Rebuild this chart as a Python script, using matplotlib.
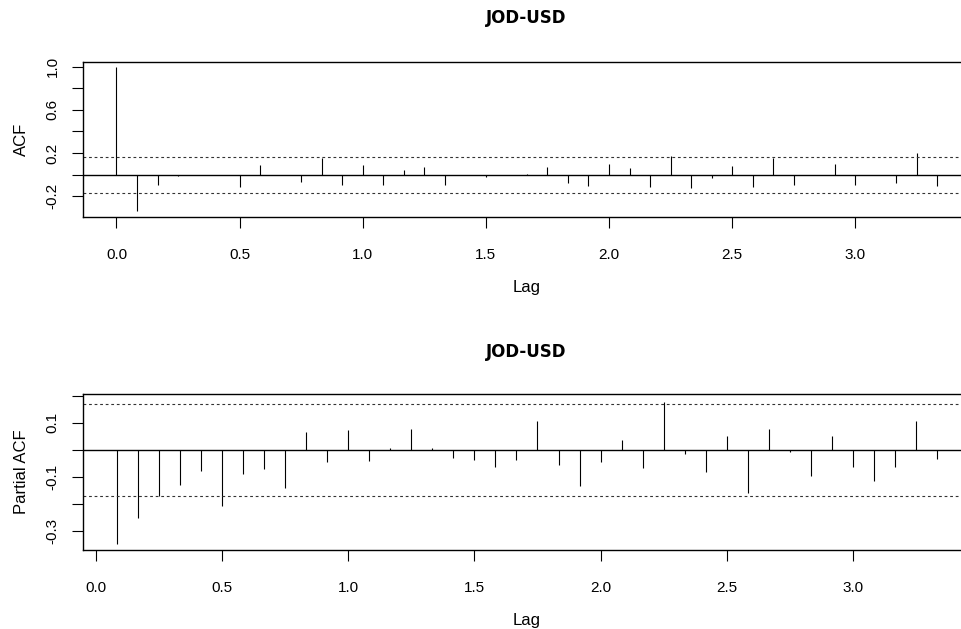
import numpy as np
import matplotlib
matplotlib.use("Agg")
import matplotlib.pyplot as plt

TITLE = "JOD-USD"

# lags are in years (monthly data, lag k = k/12)
acf_lags = np.arange(0, 41) / 12
acf_vals = [1.0, -0.336, -0.10, -0.01, 0.0, 0.0, -0.117, 0.09, 0.0, -0.065,
            0.152, -0.095, 0.09, -0.10, 0.043, 0.074, -0.095, 0.0, -0.02, 0.0,
            0.01, 0.074, -0.074, -0.105, 0.099, 0.062, -0.111, 0.173, -0.126, -0.034,
            0.083, -0.117, 0.15, -0.095, 0.0, 0.10, -0.095, 0.0, -0.074, 0.204,
            -0.105]
acf_ci = 0.166

pacf_lags = np.arange(1, 41) / 12
pacf_vals = [-0.348, -0.252, -0.172, -0.129, -0.079, -0.206, -0.088, -0.070, -0.141, 0.067,
             -0.046, 0.075, -0.042, 0.007, 0.079, 0.007, -0.030, -0.036, -0.064, -0.038,
             0.106, -0.054, -0.135, -0.046, 0.036, -0.067, 0.176, -0.014, -0.083, 0.053,
             -0.159, 0.078, -0.009, -0.095, 0.053, -0.063, -0.116, -0.063, 0.106, -0.033]
pacf_ci = 0.169

x_ticks = [0.0, 0.5, 1.0, 1.5, 2.0, 2.5, 3.0]
x_labels = ["0.0", "0.5", "1.0", "1.5", "2.0", "2.5", "3.0"]

acf_yticks = [-0.2, 0.0, 0.2, 0.4, 0.6, 0.8, 1.0]
acf_ylabels = ["-0.2", "", "0.2", "", "0.6", "", "1.0"]
pacf_yticks = [-0.3, -0.2, -0.1, 0.0, 0.1, 0.2]
pacf_ylabels = ["-0.3", "", "-0.1", "", "0.1", ""]

plt.rcParams["font.family"] = ["Liberation Sans", "DejaVu Sans"]

W, H = 961, 629
fig = plt.figure(figsize=(W / 100, H / 100), dpi=100)


def px_axes(left, top, right, bottom):
    return fig.add_axes([left / W, 1 - bottom / H, (right - left) / W, (bottom - top) / H])


def style(ax, lags, vals, ci, xlim, ylim, yticks, ylabels, ylab):
    ax.vlines(lags, 0, vals, color="black", linewidth=0.8)
    ax.axhline(0, color="black", linewidth=1.0)
    for c in (ci, -ci):
        ax.axhline(c, color="#333333", linewidth=0.8, linestyle=(0, (2.5, 2.5)))
    ax.set_xlim(*xlim)
    ax.set_ylim(*ylim)
    ax.set_xticks(x_ticks)
    ax.set_xticklabels(x_labels, fontsize=11)
    ax.set_yticks(yticks)
    ax.set_yticklabels(ylabels, fontsize=11, rotation=90, va="center")
    ax.tick_params(direction="out", length=8, width=0.8)
    ax.tick_params(axis="x", pad=14)
    ax.tick_params(axis="y", pad=9)
    for s in ax.spines.values():
        s.set_linewidth(1.0)
    ax.set_ylabel(ylab, fontsize=12, labelpad=12)
    ax.set_xlabel("Lag", fontsize=12, labelpad=13)


ax1 = px_axes(83, 62, 970, 217)
style(ax1, acf_lags, acf_vals, acf_ci, (-0.136, 3.466), (-0.392, 1.0435),
      acf_yticks, acf_ylabels, "ACF")
fig.text(526 / W, 1 - 18 / H, TITLE, ha="center", va="center",
         fontsize=12, fontweight="bold", family="DejaVu Sans")

ax2 = px_axes(83, 394, 970, 550)
style(ax2, pacf_lags, pacf_vals, pacf_ci, (-0.05, 3.463), (-0.37, 0.207),
      pacf_yticks, pacf_ylabels, "Partial ACF")
fig.text(526 / W, 1 - 352 / H, TITLE, ha="center", va="center",
         fontsize=12, fontweight="bold", family="DejaVu Sans")

fig.savefig("out.png", dpi=100)
